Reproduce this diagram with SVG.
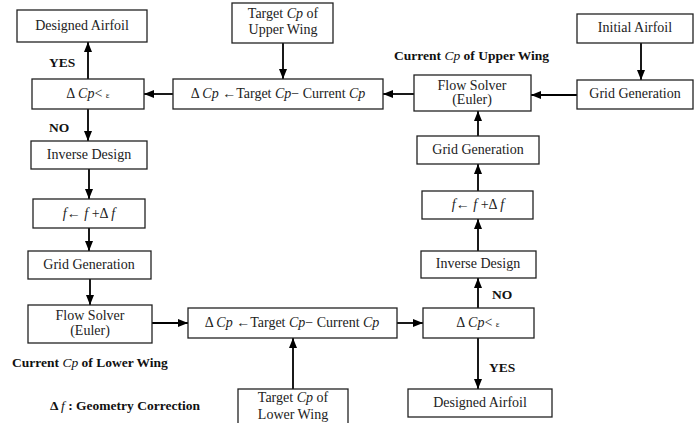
<svg xmlns="http://www.w3.org/2000/svg" width="694" height="423" viewBox="0 0 694 423">
<style>
.box{fill:#fff;stroke:#222;stroke-width:1.3}
text{font-family:"Liberation Serif","Times New Roman",serif;font-size:14px;fill:#222;text-anchor:middle}
.b{font-weight:bold;fill:#111;font-size:13.5px}
.i{font-style:italic}
.lab{text-anchor:start}
.ln{stroke:#000;stroke-width:1.8;fill:none;marker-end:url(#ah)}
</style>
<defs>
<marker id="ah" markerUnits="userSpaceOnUse" markerWidth="10" markerHeight="10" viewBox="0 0 10 10" refX="10" refY="5" orient="auto"><path d="M0,1 L10,5 L0,9 Z" fill="#000"/></marker>
</defs>
<rect width="694" height="423" fill="#fff"/>
<g id="connectors">
<line class="ln" x1="88" y1="79" x2="88" y2="42"/>
<line class="ln" x1="88" y1="109" x2="88" y2="141"/>
<line class="ln" x1="89" y1="169" x2="89" y2="199"/>
<line class="ln" x1="89" y1="228" x2="89" y2="251"/>
<line class="ln" x1="90" y1="279" x2="90" y2="305"/>
<line class="ln" x1="152" y1="323" x2="188" y2="323"/>
<line class="ln" x1="293" y1="389" x2="293" y2="338"/>
<line class="ln" x1="397" y1="323" x2="423" y2="323"/>
<line class="ln" x1="478" y1="308" x2="478" y2="278"/>
<line class="ln" x1="478" y1="338" x2="478" y2="389"/>
<line class="ln" x1="478" y1="251" x2="478" y2="219"/>
<line class="ln" x1="478" y1="191" x2="478" y2="164"/>
<line class="ln" x1="478" y1="136" x2="478" y2="111"/>
<line class="ln" x1="641" y1="43" x2="641" y2="80"/>
<line class="ln" x1="577" y1="95" x2="531" y2="95"/>
<line class="ln" x1="414" y1="94" x2="383" y2="94"/>
<line class="ln" x1="283" y1="43" x2="283" y2="79"/>
<line class="ln" x1="173" y1="94" x2="144" y2="94"/>
</g>
<g id="n_designed_top"><rect class="box" x="17" y="10" width="130" height="32"/><text x="82" y="30">Designed Airfoil</text></g>
<g id="n_check_left"><rect class="box" x="32" y="79" width="112" height="30"/><text x="88" y="98">Δ <tspan class="i">Cp</tspan>&lt; <tspan font-size="9">ε</tspan></text></g>
<g id="n_diff_upper"><rect class="box" x="173" y="79" width="210" height="30"/><text x="278" y="98">Δ <tspan class="i">Cp</tspan> ←Target <tspan class="i">Cp</tspan>− Current <tspan class="i">Cp</tspan></text></g>
<g id="n_target_upper"><rect class="box" x="232" y="3" width="101" height="40"/><text x="283" y="18">Target <tspan class="i">Cp</tspan> of</text><text x="283" y="34">Upper Wing</text></g>
<g id="n_flow_upper"><rect class="box" x="414" y="75" width="117" height="36"/><text x="472" y="90">Flow Solver</text><text x="472" y="104">(Euler)</text></g>
<g id="n_grid_upper"><rect class="box" x="577" y="80" width="116" height="29"/><text x="635" y="98">Grid Generation</text></g>
<g id="n_initial"><rect class="box" x="577" y="14" width="116" height="29"/><text x="635" y="32">Initial Airfoil</text></g>
<g id="n_grid_right"><rect class="box" x="417" y="136" width="122" height="28"/><text x="478" y="154">Grid Generation</text></g>
<g id="n_f_right"><rect class="box" x="422" y="191" width="111" height="28"/><text x="478" y="209"><tspan class="i">f</tspan>← <tspan class="i">f</tspan> +Δ  <tspan class="i">f</tspan></text></g>
<g id="n_inverse_right"><rect class="box" x="421" y="251" width="115" height="27"/><text x="478" y="268">Inverse Design</text></g>
<g id="n_check_right"><rect class="box" x="423" y="308" width="111" height="30"/><text x="478" y="327">Δ <tspan class="i">Cp</tspan>&lt; <tspan font-size="9">ε</tspan></text></g>
<g id="n_designed_bottom"><rect class="box" x="408" y="389" width="144" height="28"/><text x="480" y="407">Designed Airfoil</text></g>
<g id="n_diff_lower"><rect class="box" x="188" y="308" width="209" height="30"/><text x="292" y="327">Δ <tspan class="i">Cp</tspan> ←Target <tspan class="i">Cp</tspan>− Current <tspan class="i">Cp</tspan></text></g>
<g id="n_target_lower"><rect class="box" x="238" y="389" width="110" height="40"/><text x="293" y="402">Target <tspan class="i">Cp</tspan> of</text><text x="293" y="419">Lower Wing</text></g>
<g id="n_flow_left"><rect class="box" x="28" y="305" width="124" height="38"/><text x="90" y="320">Flow Solver</text><text x="90" y="335">(Euler)</text></g>
<g id="n_grid_left"><rect class="box" x="28" y="251" width="123" height="28"/><text x="89" y="269">Grid Generation</text></g>
<g id="n_f_left"><rect class="box" x="33" y="199" width="112" height="29"/><text x="89" y="218"><tspan class="i">f</tspan>← <tspan class="i">f</tspan> +Δ  <tspan class="i">f</tspan></text></g>
<g id="n_inverse_left"><rect class="box" x="31" y="141" width="116" height="28"/><text x="89" y="159">Inverse Design</text></g>
<g id="labels">
<text class="b lab" x="49" y="67">YES</text>
<text class="b lab" x="49" y="132">NO</text>
<text class="b lab" x="394" y="60">Current <tspan class="i" font-weight="normal">Cp</tspan> of Upper Wing</text>
<text class="b lab" x="492" y="299">NO</text>
<text class="b lab" x="489" y="372">YES</text>
<text class="b lab" x="12" y="367">Current <tspan class="i" font-weight="normal">Cp</tspan> of Lower Wing</text>
<text class="b lab" x="50" y="410">Δ   <tspan class="i" font-weight="normal">f</tspan> : Geometry Correction</text>
</g>
</svg>
